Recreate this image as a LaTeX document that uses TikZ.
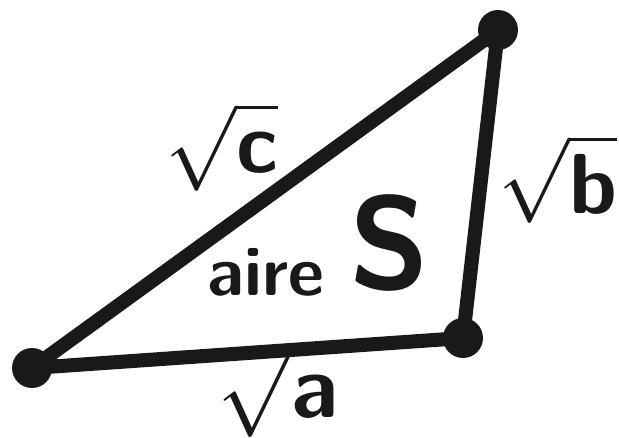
\documentclass[tikz,border=0pt]{standalone}
\usepackage{amsmath}
\usepackage{xcolor}
\definecolor{ink}{RGB}{25, 25, 25}
\usepackage{tikz}
\usetikzlibrary{arrows.meta, positioning, calc}

\begin{document}
\begin{tikzpicture}[x=0.02cm, y=0.02cm,
    vertex/.style={circle, fill=ink, inner sep=0pt, minimum size=0.8cm},
    side/.style={draw=ink, line width=8pt, line cap=round, line join=round},
    sidelabel/.style={text=ink, font=\sffamily\bfseries\Huge, scale=1.95},
    arealabel/.style={text=ink, font=\sffamily\bfseries\Huge, inner sep=0pt},
  ]
      \useasboundingbox (0,0) rectangle (619,437);
      % corners of the triangle
      \node[vertex] (A) at (32,69) {};
      \node[vertex] (B) at (463,99) {};
      \node[vertex] (C) at (498,407) {};
      \draw[side] (A.center) -- (B.center) -- (C.center) -- cycle;
      % side lengths
      \node[sidelabel] (lc) at (222,290) {$\sqrt{\text{c}}$};
      \node[sidelabel] (lb) at (558,258) {$\sqrt{\text{b}}$};
      \node[sidelabel, scale=1.05] (la) at (278,46) {$\sqrt{\text{a}}$};
      % area
      \node[arealabel, scale=1.6] (aire) at (266,165) {aire};
      \node[arealabel, scale=3.0] (S) at (390,194) {S};
    \end{tikzpicture}
\end{document}
